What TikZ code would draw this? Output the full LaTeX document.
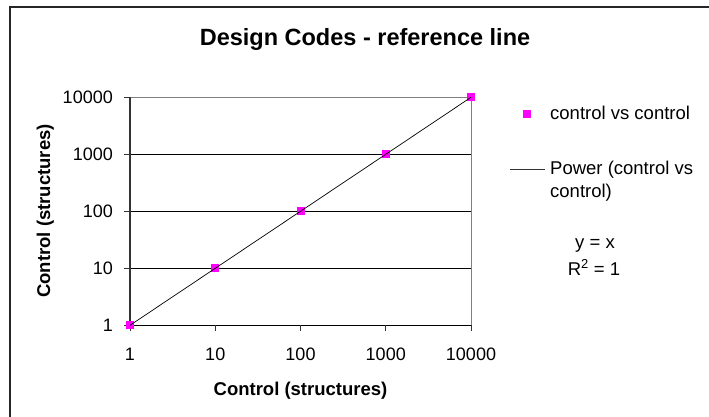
\documentclass[tikz,border=0pt]{standalone}
\usepackage{fontspec}
\setmainfont{Liberation Sans}
\usetikzlibrary{positioning}
\definecolor{pinkmark}{RGB}{255,0,255}
\definecolor{axisgray}{RGB}{128,128,128}

\begin{document}
\begin{tikzpicture}[x=1pt, y=-1pt,
  ticklabel/.style={font=\fontsize{18}{21}\selectfont, inner sep=0pt},
  axtitle/.style={font=\fontsize{18.5}{22}\selectfont\bfseries, inner sep=0pt, anchor=base},
  legtext/.style={font=\fontsize{18.5}{22}\selectfont, inner sep=0pt},
  sqmark/.style={fill=pinkmark, minimum size=8pt, inner sep=0pt},
  gridline/.style={black, line width=0.8pt},
  trend/.style={black, line width=0.7pt}
]
\useasboundingbox (0,0) rectangle (709,417);
% chart frame
\draw[line width=1.5pt, black!85] (10,430) -- (10,7) -- (720,7);
\node[font=\fontsize{23.5}{28}\selectfont\bfseries, inner sep=0pt, anchor=base] (title) at (365,46) {Design Codes - reference line};

% plot area
\foreach \i in {1,2,3}
  \draw[gridline] (130,{325.3-57*\i}) -- (471,{325.3-57*\i});
\draw[axisgray, line width=1pt] (130,97.3) -- (471,97.3) -- (471,325.3);
\draw[black!80, line width=1.6pt] (130,97.3) -- (130,325.3);
\draw[black, line width=1pt] (130,325.3) -- (471,325.3);

\foreach \i/\v in {0/1,1/10,2/100,3/1000,4/10000} {
  \draw[black!80, line width=0.8pt] (124,{325.3-57*\i}) -- (130,{325.3-57*\i});
  \draw[black!80, line width=0.8pt] ({130+85.25*\i},325.3) -- ({130+85.25*\i},331);
  \node[ticklabel, anchor=base east] (ylab\i) at (113,{331.8-57*\i}) {\v};
  \node[ticklabel, anchor=base] (xlab\i) at ({130+85.25*\i},360) {\v};
  \node[sqmark] (pt\i) at ({130+85.25*\i},{325.3-57*\i}) {};
}
\draw[trend] (pt0.center) -- (pt4.center);

\node[axtitle] (xtitle) at (300.5,395) {Control (structures)};
\node[axtitle, rotate=90] (ytitle) at (50,211) {Control (structures)};

% legend
\node[sqmark] (legmark) at (527,114) {};
\node[legtext, anchor=base west] (legdata) at (550,120) {control vs control};
\coordinate (legA) at (510,169);
\coordinate (legB) at (545,169);
\draw[black!80, line width=0.8pt] (legA) -- (legB);
\node[legtext, anchor=base west] (legfit) at (550,174) {Power (control vs};
\node[legtext, anchor=base west] (legfit2) at (550,197) {control)};
\node[legtext, anchor=base] (eqn) at (595,248) {y = x};
\node[legtext, anchor=base] (rsq) at (594,275) {R\textsuperscript{2} = 1};
\end{tikzpicture}
\end{document}
